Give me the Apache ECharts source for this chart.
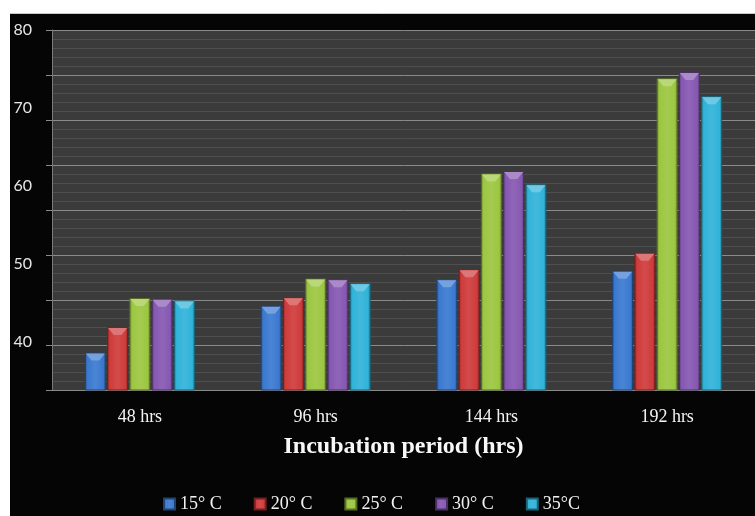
<!DOCTYPE html>
<html>
<head>
<meta charset="utf-8">
<script src="https://cdn.jsdelivr.net/npm/echarts@6/dist/echarts.min.js"></script>
<style>
  html, body { margin: 0; padding: 0; background: #ffffff; }
  #chart { width: 755px; height: 516px; }
</style>
</head>
<body>
<div id="chart"></div>
<script>
// Incubation period categories and temperature series
const categories = ['48 hrs', '96 hrs', '144 hrs', '192 hrs'];
const seriesNames = ['15° C', '20° C', '25° C', '30° C', '35°C'];
const temp15 = [38.6, 44.6, 48.0, 49.1];
const temp20 = [41.9, 45.7, 49.3, 51.4];
const temp25 = [45.6, 48.1, 61.6, 73.8];
const temp30 = [45.5, 48.0, 61.9, 74.6];
const temp35 = [45.3, 47.5, 60.2, 71.5];
const yTickLabels = [40, 50, 60, 70, 80];

const seriesValues = [temp15, temp20, temp25, temp30, temp35];
const baseColors = ['#3a79d0', '#cf3b3b', '#9cc641', '#8658b2', '#30b3d9'];

function shade(hex, f) {
  const n = parseInt(hex.slice(1), 16);
  let r = (n >> 16) & 255, g = (n >> 8) & 255, b = n & 255;
  if (f < 0) { r *= 1 + f; g *= 1 + f; b *= 1 + f; }
  else { r += (255 - r) * f; g += (255 - g) * f; b += (255 - b) * f; }
  return 'rgb(' + Math.round(r) + ',' + Math.round(g) + ',' + Math.round(b) + ')';
}

function bodyFill(c) {
  return new echarts.graphic.LinearGradient(0, 0, 1, 0, [
    { offset: 0, color: shade(c, -0.35) },
    { offset: 0.12, color: c },
    { offset: 0.5, color: shade(c, 0.08) },
    { offset: 0.88, color: c },
    { offset: 1, color: shade(c, -0.35) }
  ]);
}

const BAR_W = 21;
const BAR_GAP = '6%';

const series = [];
seriesValues.forEach(function (vals, i) {
  series.push({
    name: seriesNames[i],
    type: 'bar',
    data: vals,
    barWidth: BAR_W,
    barGap: BAR_GAP,
    itemStyle: {
      color: bodyFill(baseColors[i]),
      borderColor: shade(baseColors[i], -0.45),
      borderWidth: 1
    },
    z: 2
  });
});
// bevelled cap at the top of each bar
seriesValues.forEach(function (vals, i) {
  series.push({
    name: seriesNames[i],
    type: 'pictorialBar',
    data: vals,
    barWidth: BAR_W,
    barGap: BAR_GAP,
    symbol: 'path://M0,0 L20,0 L14,7 L6,7 Z',
    symbolSize: [BAR_W - 2, 7],
    symbolPosition: 'end',
    symbolOffset: [0, 1],
    itemStyle: { color: shade(baseColors[i], 0.3) },
    z: 3,
    silent: true
  });
});

const chart = echarts.init(document.getElementById('chart'), null, { renderer: 'canvas' });
chart.setOption({
  backgroundColor: '#ffffff',
  animation: false,
  graphic: [{
    type: 'rect',
    z: -10,
    shape: { x: 10, y: 14, width: 745, height: 502 },
    style: { fill: '#050505' }
  }, {
    type: 'line',
    z: -9,
    shape: { x1: 10, y1: 13.5, x2: 755, y2: 13.5 },
    style: { stroke: '#c8c8c8', lineWidth: 1 }
  }],
  grid: {
    left: 52, top: 30, width: 712, height: 360,
    show: true, backgroundColor: '#3b3b3b', borderWidth: 0
  },
  legend: {
    data: seriesNames,
    left: 163, top: 495,
    padding: 0,
    icon: 'rect',
    itemWidth: 11, itemHeight: 11, itemGap: 32,
    textStyle: { color: '#f2f2f2', fontFamily: 'Liberation Serif', fontSize: 18 }
  },
  xAxis: {
    type: 'category',
    data: categories,
    axisLine: { show: true, lineStyle: { color: '#8a8a8a', width: 1 } },
    axisTick: { show: false },
    axisLabel: { color: '#f2f2f2', fontFamily: 'Liberation Serif', fontSize: 18, margin: 18 },
    name: 'Incubation period (hrs)',
    nameLocation: 'middle',
    nameGap: 45,
    nameTextStyle: { color: '#f7f7f7', fontFamily: 'Liberation Serif', fontSize: 24, fontWeight: 'bold' },
    splitLine: { show: false }
  },
  yAxis: [{
    type: 'value',
    min: 33.8,
    max: 80,
    position: 'left',
    axisLine: { show: true, lineStyle: { color: '#7a7a7a', width: 1 } },
    axisTick: { show: false },
    splitLine: { show: false },
    axisLabel: {
      customValues: yTickLabels,
      color: '#e6e6e6', fontFamily: 'Lato', fontSize: 16, margin: 20
    }
  }, {
    // reference grid: evenly spaced major lines with minor subdivisions
    type: 'value',
    min: 0, max: 8, interval: 1,
    position: 'left',
    axisLine: { show: false },
    axisLabel: { show: false },
    axisTick: { show: true, length: 6, lineStyle: { color: '#8a8a8a' } },
    minorTick: { show: false, splitNumber: 5 },
    splitLine: { show: true, lineStyle: { color: '#8a8a8a', width: 1 } },
    minorSplitLine: { show: true, lineStyle: { color: '#4f4f4f', width: 1 } }
  }],
  series: series
});
</script>
</body>
</html>
